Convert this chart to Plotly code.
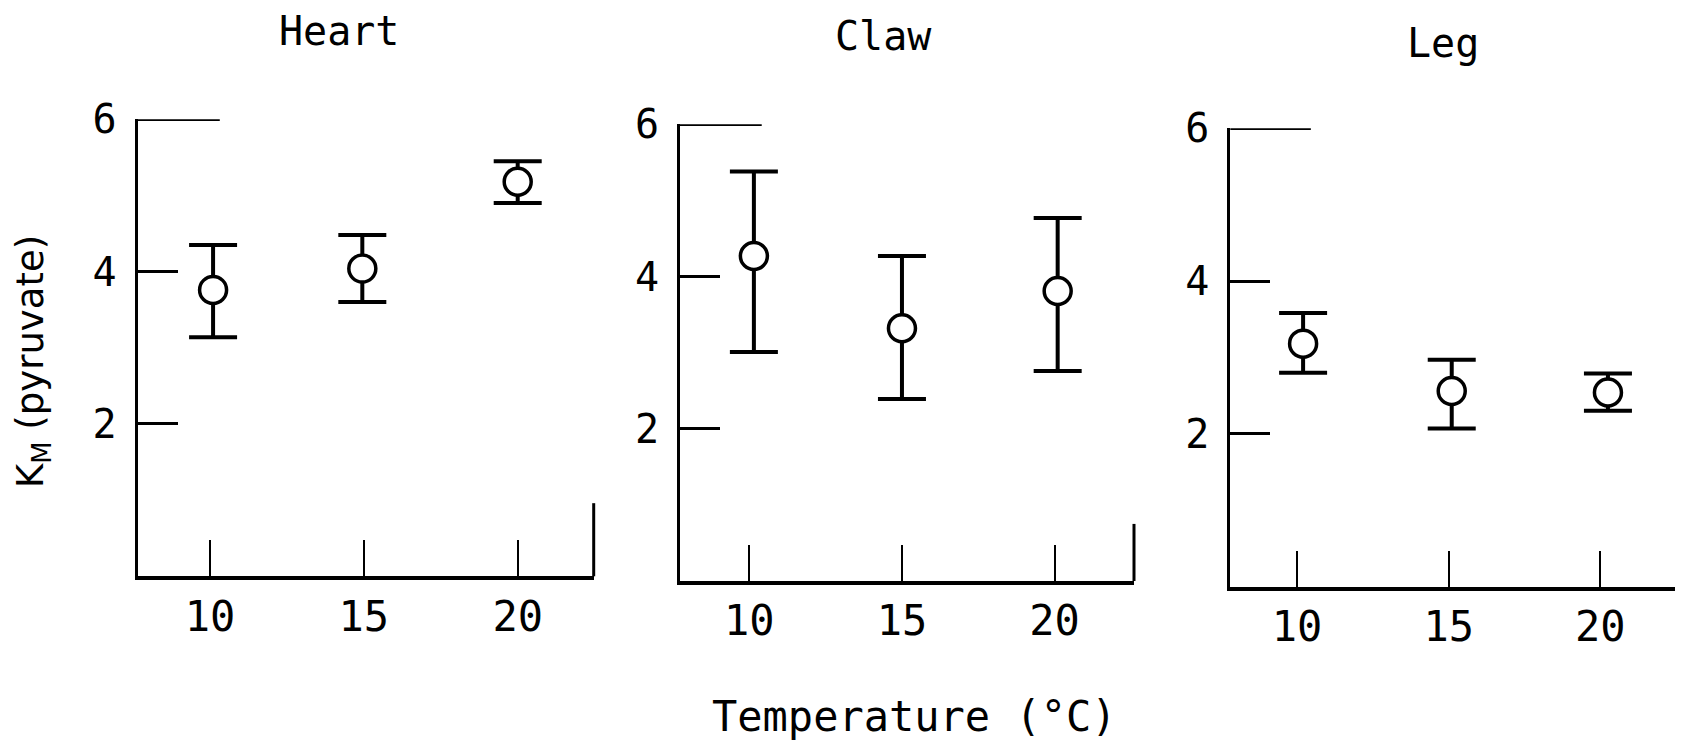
import plotly.graph_objects as go

# values (K_M for pyruvate, per tissue)
temps = [10, 15, 20]

heart_x = [10.1, 14.95, 20.0]
heart_mean = [3.76, 4.04, 5.18]
heart_upper = [4.35, 4.48, 5.45]
heart_lower = [3.14, 3.60, 4.90]

claw_x = [10.15, 15.0, 20.1]
claw_mean = [4.27, 3.32, 3.81]
claw_upper = [5.38, 4.27, 4.77]
claw_lower = [3.01, 2.39, 2.76]

leg_x = [10.2, 15.1, 20.25]
leg_mean = [3.18, 2.56, 2.54]
leg_upper = [3.58, 2.97, 2.79]
leg_lower = [2.80, 2.07, 2.30]

y_ticks = [2, 4, 6]

W, H = 1683, 741
DX, DY = -7, -8  # page offset correction
MONO = "DejaVu Sans Mono"
SANS = "DejaVu Sans"

panels = [
    # name, x, mean, upper, lower, x-domain px, y-domain px (top, bottom), x range, right tick height
    ("Heart", heart_x, heart_mean, heart_upper, heart_lower, (136.7, 592.7), (119.3, 576.3), (7.65, 22.47), 0.16),
    ("Claw", claw_x, claw_mean, claw_upper, claw_lower, (679, 1133), (124.3, 581), (7.73, 22.6), 0.125),
    ("Leg", leg_x, leg_mean, leg_upper, leg_lower, (1229.3, 1676.7), (128.3, 586.5), (7.80, 22.55), 0.157),
]
title_pos = [(338, 31), (882, 36), (1442, 43)]


def px(x):
    return (x + DX) / W


def py(y):
    return 1 - (y + DY) / H


fig = go.Figure()
shapes = []
annotations = []

for i, (name, xs, mean, up, lo, xd, yd, xr, rt) in enumerate(panels):
    n = "" if i == 0 else str(i + 1)
    xa, ya = "x" + n, "y" + n
    fig.add_trace(go.Scatter(
        x=xs, y=mean, xaxis=xa, yaxis=ya, mode="markers",
        marker=dict(symbol="circle", size=27, color="white",
                    line=dict(color="black", width=3.5)),
        error_y=dict(type="data", symmetric=False,
                     array=[u - m for u, m in zip(up, mean)],
                     arrayminus=[m - l for m, l in zip(mean, lo)],
                     color="black", thickness=4, width=24),
        showlegend=False, hoverinfo="skip",
    ))
    axis_x = dict(domain=[px(xd[0]), px(xd[1])], range=list(xr), anchor=ya,
                  tickvals=temps, ticks="inside", ticklen=36, tickwidth=2,
                  tickcolor="black", showline=True, linecolor="black", linewidth=4,
                  showgrid=False, zeroline=False, automargin=False,
                  tickfont=dict(family=MONO, size=42, color="black"))
    axis_y = dict(domain=[py(yd[1]), py(yd[0])], range=[0, 6], anchor=xa,
                  tickvals=y_ticks, ticks="inside", ticklen=40, tickwidth=2.5,
                  tickcolor="black", showline=True, linecolor="black", linewidth=3,
                  showgrid=False, zeroline=False, automargin=False, ticklabelstandoff=10,
                  tickfont=dict(family=MONO, size=40, color="black"))
    fig.update_layout(**{"xaxis" + n: axis_x, "yaxis" + n: axis_y})

    # longer top tick at 6 and the short closing line at the right end
    shapes.append(dict(type="line", xref=xa + " domain", yref=ya, x0=0, x1=0.18, y0=6, y1=6,
                       line=dict(color="black", width=3.5)))
    shapes.append(dict(type="line", xref=xa + " domain", yref=ya + " domain", x0=1, x1=1,
                       y0=0, y1=rt, line=dict(color="black", width=3)))

    tx, ty = title_pos[i]
    annotations.append(dict(text=name, x=px(tx), y=py(ty), xref="paper", yref="paper",
                            xanchor="center", yanchor="middle", showarrow=False,
                            font=dict(family=MONO, size=40, color="black")))

annotations.append(dict(text="Temperature (°C)", x=px(913), y=py(716),
                        xref="paper", yref="paper", xanchor="center", yanchor="middle",
                        showarrow=False, font=dict(family=MONO, size=42, color="black")))
annotations.append(dict(text="K<sub>M</sub> (pyruvate)", x=px(32), y=py(362),
                        xref="paper", yref="paper", xanchor="center", yanchor="middle",
                        textangle=-90, showarrow=False,
                        font=dict(family=SANS, size=37, color="black")))

fig.update_layout(
    width=W, height=H,
    margin=dict(l=0, r=0, t=0, b=0, autoexpand=False),
    paper_bgcolor="white", plot_bgcolor="white",
    showlegend=False,
    shapes=shapes, annotations=annotations,
)

fig.write_html("out.html")
